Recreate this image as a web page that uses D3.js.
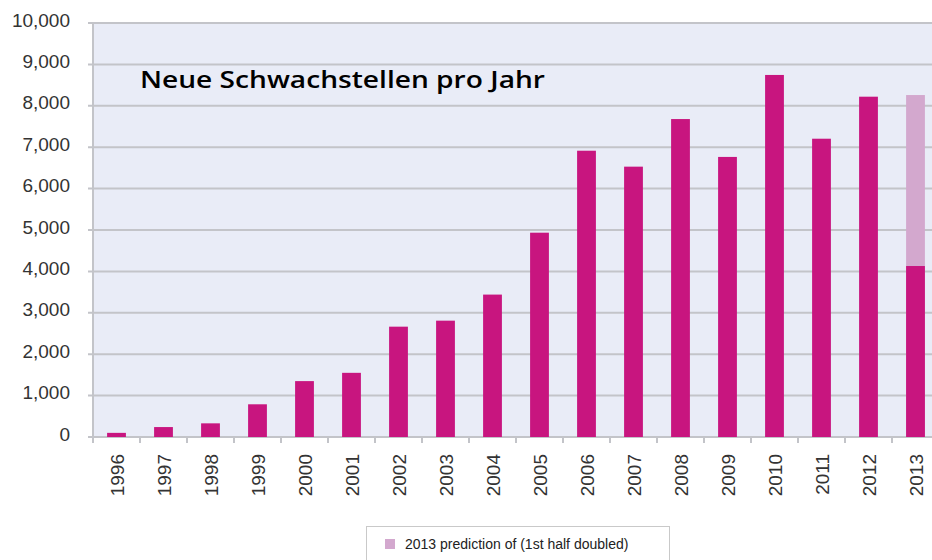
<!DOCTYPE html>
<html>
<head>
<meta charset="utf-8">
<script src="https://cdn.jsdelivr.net/npm/d3@7"></script>
<style>
  html, body { margin: 0; padding: 0; background: #ffffff; overflow: hidden; }
  svg { display: block; }
</style>
</head>
<body>
<svg id="chart" width="932" height="560"></svg>
<script>
const years = ["1996","1997","1998","1999","2000","2001","2002","2003","2004","2005","2006","2007","2008","2009","2010","2011","2012","2013"];
const vulnerabilities = [100, 240, 330, 790, 1350, 1550, 2665, 2810, 3440, 4935, 6915, 6530, 7680, 6765, 8745, 7205, 8220, 4130];
const prediction2013 = [null, null, null, null, null, null, null, null, null, null, null, null, null, null, null, null, null, 8260];
const yTicks = [0, 1000, 2000, 3000, 4000, 5000, 6000, 7000, 8000, 9000, 10000];
const titleText = "Neue Schwachstellen pro Jahr";
const legendText = "2013 prediction of (1st half doubled)";

const svg = d3.select("#chart");
const pLeft = 93, pRight = 939, pTop = 23, pBottom = 437;
const gridColor = "#c3c4c9";

const x = d3.scaleBand().domain(years).range([pLeft, pRight]).paddingInner(0.6).paddingOuter(0.3);
const y = d3.scaleLinear().domain([0, 10000]).range([pBottom, pTop]);

// plot background
svg.append("rect").attr("x", pLeft).attr("y", pTop).attr("width", 932 - pLeft).attr("height", pBottom - pTop)
  .attr("fill", "#e9ecf7");

// gridlines + tick stubs
svg.append("g").selectAll("line").data(yTicks).join("line")
  .attr("x1", pLeft - 5).attr("x2", 932)
  .attr("y1", d => y(d)).attr("y2", d => y(d))
  .attr("stroke", gridColor).attr("stroke-width", 2);

// left axis line
svg.append("line").attr("x1", pLeft).attr("x2", pLeft).attr("y1", pTop).attr("y2", pBottom + 6)
  .attr("stroke", gridColor).attr("stroke-width", 2);

// y labels
svg.append("g").selectAll("text").data(yTicks).join("text")
  .attr("x", 70).attr("y", d => y(d) - 3)
  .attr("text-anchor", "end").attr("dominant-baseline", "central")
  .attr("font-family", "Liberation Sans, Arial, sans-serif").attr("font-size", 19)
  .attr("fill", "#333")
  .text(d => d3.format(",")(d));

// x boundary ticks
const bounds = years.map(d => x(d) + x.bandwidth() / 2 - x.step() / 2);
svg.append("g").selectAll("line").data(bounds).join("line")
  .attr("x1", d => d).attr("x2", d => d).attr("y1", pBottom).attr("y2", pBottom + 6)
  .attr("stroke", gridColor).attr("stroke-width", 2);

// prediction bar (light)
svg.append("g").selectAll("rect").data(years.map((d, i) => ({year: d, v: prediction2013[i]})).filter(d => d.v != null))
  .join("rect")
  .attr("x", d => x(d.year)).attr("width", x.bandwidth())
  .attr("y", d => y(d.v)).attr("height", d => y(0) - y(d.v))
  .attr("fill", "#d3a8ce");

// main bars
svg.append("g").selectAll("rect").data(years.map((d, i) => ({year: d, v: vulnerabilities[i]})))
  .join("rect")
  .attr("x", d => x(d.year)).attr("width", x.bandwidth())
  .attr("y", d => y(d.v)).attr("height", d => y(0) - y(d.v))
  .attr("fill", "#c8157f");

// x labels
svg.append("g").selectAll("text").data(years).join("text")
  .attr("transform", d => `translate(${x(d) + x.bandwidth() / 2 + 1},454) rotate(-90)`)
  .attr("text-anchor", "end").attr("dominant-baseline", "central")
  .attr("font-family", "Liberation Sans, Arial, sans-serif").attr("font-size", 19)
  .attr("fill", "#333")
  .text(d => d);

// title
svg.append("text").attr("x", 140).attr("y", 88)
  .attr("font-family", "Open Sans, sans-serif").attr("font-size", 23).attr("font-weight", 600)
  .attr("fill", "#000")
  .attr("textLength", 405).attr("lengthAdjust", "spacingAndGlyphs")
  .text(titleText);

// legend
const lg = svg.append("g");
lg.append("rect").attr("x", 366.5).attr("y", 526.5).attr("width", 303).attr("height", 60)
  .attr("fill", "#fff").attr("stroke", "#c9c9c9").attr("stroke-width", 1);
lg.append("rect").attr("x", 385).attr("y", 539).attr("width", 10).attr("height", 10)
  .attr("fill", "#d3a8ce");
lg.append("text").attr("x", 405).attr("y", 549)
  .attr("font-family", "Liberation Sans, Arial, sans-serif").attr("font-size", 14)
  .attr("fill", "#222")
  .text(legendText);
</script>
</body>
</html>
